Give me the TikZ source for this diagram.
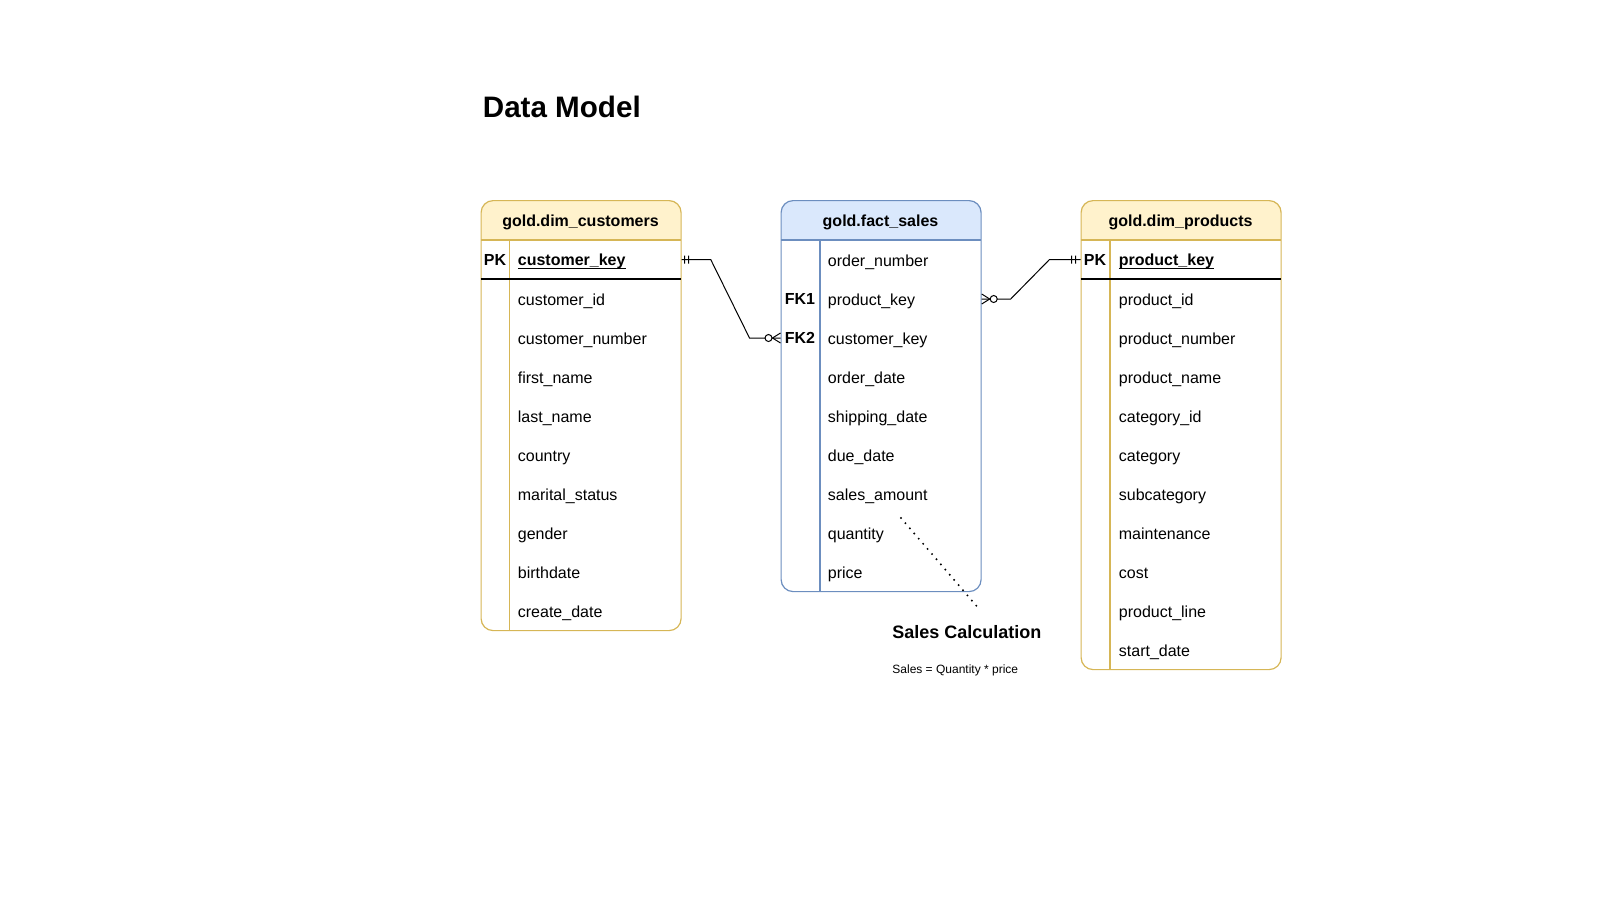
\documentclass[tikz,border=0pt]{standalone}
\usepackage{fontspec}
\setmainfont{Liberation Sans}
\usetikzlibrary{calc}

\definecolor{dimfill}{HTML}{FFF2CC}
\definecolor{dimline}{HTML}{D6B656}
\definecolor{factfill}{HTML}{DAE8FC}
\definecolor{factline}{HTML}{6C8EBF}

\def\custX{480.5}
\def\factX{780.5}
\def\prodX{1080.5}
\def\rowH{39}

\tikzset{
  tablebox/.style n args={3}{draw=#1, line width=0.6pt, rounded corners=6pt,
    minimum width=100pt, minimum height=#3, inner sep=0pt, anchor=north west,
    path picture={\fill[#2, sharp corners] (path picture bounding box.north west)
      rectangle ([yshift=-20pt]path picture bounding box.north east);}},
  field/.style={anchor=west, inner sep=0pt, text height=6pt, text depth=0pt,
    font=\fontsize{8}{9.6}\selectfont},
  keytag/.style={field, anchor=center, font=\bfseries\fontsize{8}{9.6}\selectfont},
  keyfield/.style={field, font=\bfseries\fontsize{8}{9.6}\selectfont},
  headtext/.style={keytag},
  er/.style={line width=0.5pt, black},
  notelink/.style={line width=1.1pt, line cap=round, dash pattern=on 0pt off 3.4pt},
}

\begin{document}
\begin{tikzpicture}[x=0.5pt, y=-0.5pt]
      \useasboundingbox (0,0) rectangle (1600,900);

      % Title
      \node[anchor=base west, inner sep=0pt,
        font=\bfseries\fontsize{14.8}{17}\selectfont] (title)
        at (482.5,117) {Data Model};

      % gold.dim_customers
      \node[tablebox={dimline}{dimfill}{215pt}] (cust) at (\custX,200) {};
      \draw[dimline, line width=0.6pt]
        (\custX,240) -- (\custX+200,240)
        (\custX+29,240) -- (\custX+29,630)
      ;
      \draw[line width=0.6pt] (\custX,279) -- (\custX+200,279);
      \node[headtext] (cust-title) at (\custX+100,220) {gold.dim\_customers};
      \node[keytag] (cust-tag) at (\custX+14.5,259.5) {PK};
      \node[keyfield] (cust-pk) at (\custX+37,259.5)
        {\underline{\smash{customer\_key}}};
      \foreach \field [count=\i] in {customer\_id, customer\_number,
        first\_name, last\_name, country, marital\_status, gender,
        birthdate, create\_date}
        \node[field] (cust-\i) at (\custX+37, {240.5+\rowH*(\i+0.5)}) {\field};

      % gold.fact_sales
      \node[tablebox={factline}{factfill}{195.5pt}] (fact) at (\factX,200) {};
      \draw[factline, line width=0.6pt]
        (\factX,240) -- (\factX+200,240)
        (\factX+39.5,240) -- (\factX+39.5,591)
      ;
      \node[headtext] (fact-title) at (\factX+100,220) {gold.fact\_sales};
      \node[keytag] (fact-tag1) at (\factX+19.5,298.5) {FK1};
      \node[keytag] (fact-tag2) at (\factX+19.5,337.5) {FK2};
      \foreach \field [count=\i from 0] in {order\_number, product\_key,
        customer\_key, order\_date, shipping\_date, due\_date,
        sales\_amount, quantity, price}
        \node[field] (fact-\i) at (\factX+47, {240.5+\rowH*(\i+0.5)}) {\field};

      % gold.dim_products
      \node[tablebox={dimline}{dimfill}{234.5pt}] (prod) at (\prodX,200) {};
      \draw[dimline, line width=0.6pt]
        (\prodX,240) -- (\prodX+200,240)
        (\prodX+29.5,240) -- (\prodX+29.5,669)
      ;
      \draw[line width=0.6pt] (\prodX,279) -- (\prodX+200,279);
      \node[headtext] (prod-title) at (\prodX+100,220) {gold.dim\_products};
      \node[keytag] (prod-tag) at (\prodX+14.5,259.5) {PK};
      \node[keyfield] (prod-pk) at (\prodX+38,259.5)
        {\underline{\smash{product\_key}}};
      \foreach \field [count=\i] in {product\_id, product\_number,
        product\_name, category\_id, category, subcategory, maintenance,
        cost, product\_line, start\_date}
        \node[field] (prod-\i) at (\prodX+38, {240.5+\rowH*(\i+0.5)}) {\field};

      % Relations
      \coordinate (cust-end) at (cust.east |- cust-pk);
      \coordinate (fk2-end) at (fact.west |- fact-2);
      \draw[er] (cust-end) -- ++(29,0) -- ($(fk2-end)+(-31,0)$) -- (fk2-end);
      \draw[er]
        ($(cust-end)+(3,-4)$) -- ++(0,8)
        ($(cust-end)+(7,-4)$) -- ++(0,8)
        ($(fk2-end)+(0,-5)$) -- ++(-8,5) -- ++(8,5)
      ;
      \draw[er, fill=white] ($(fk2-end)+(-12,0)$) circle[radius=1.75pt];

      \coordinate (fk1-end) at (fact.east |- fact-1);
      \coordinate (prod-end) at (prod.west |- prod-pk);
      \draw[er] (fk1-end) -- ++(29,0) -- ($(prod-end)+(-31,0)$) -- (prod-end);
      \draw[er]
        ($(prod-end)+(-5,-4)$) -- ++(0,8)
        ($(prod-end)+(-9,-4)$) -- ++(0,8)
        ($(fk1-end)+(0,-5)$) -- ++(8,5) -- ++(-8,5)
      ;
      \draw[er, fill=white] ($(fk1-end)+(12,0)$) circle[radius=1.75pt];

      % Note
      \coordinate (note-start) at (901,518);
      \coordinate (note-end) at (980,610);
      \draw[notelink] (note-start) -- (note-end);
      \node[anchor=base west, inner sep=0pt,
        font=\bfseries\fontsize{9}{11}\selectfont] (calc-title)
        at (892,638) {Sales Calculation};
      \node[anchor=base west, inner sep=0pt,
        font=\fontsize{6}{7.2}\selectfont] (calc-rule)
        at (892,673) {Sales = Quantity * price};
    \end{tikzpicture}
\end{document}
